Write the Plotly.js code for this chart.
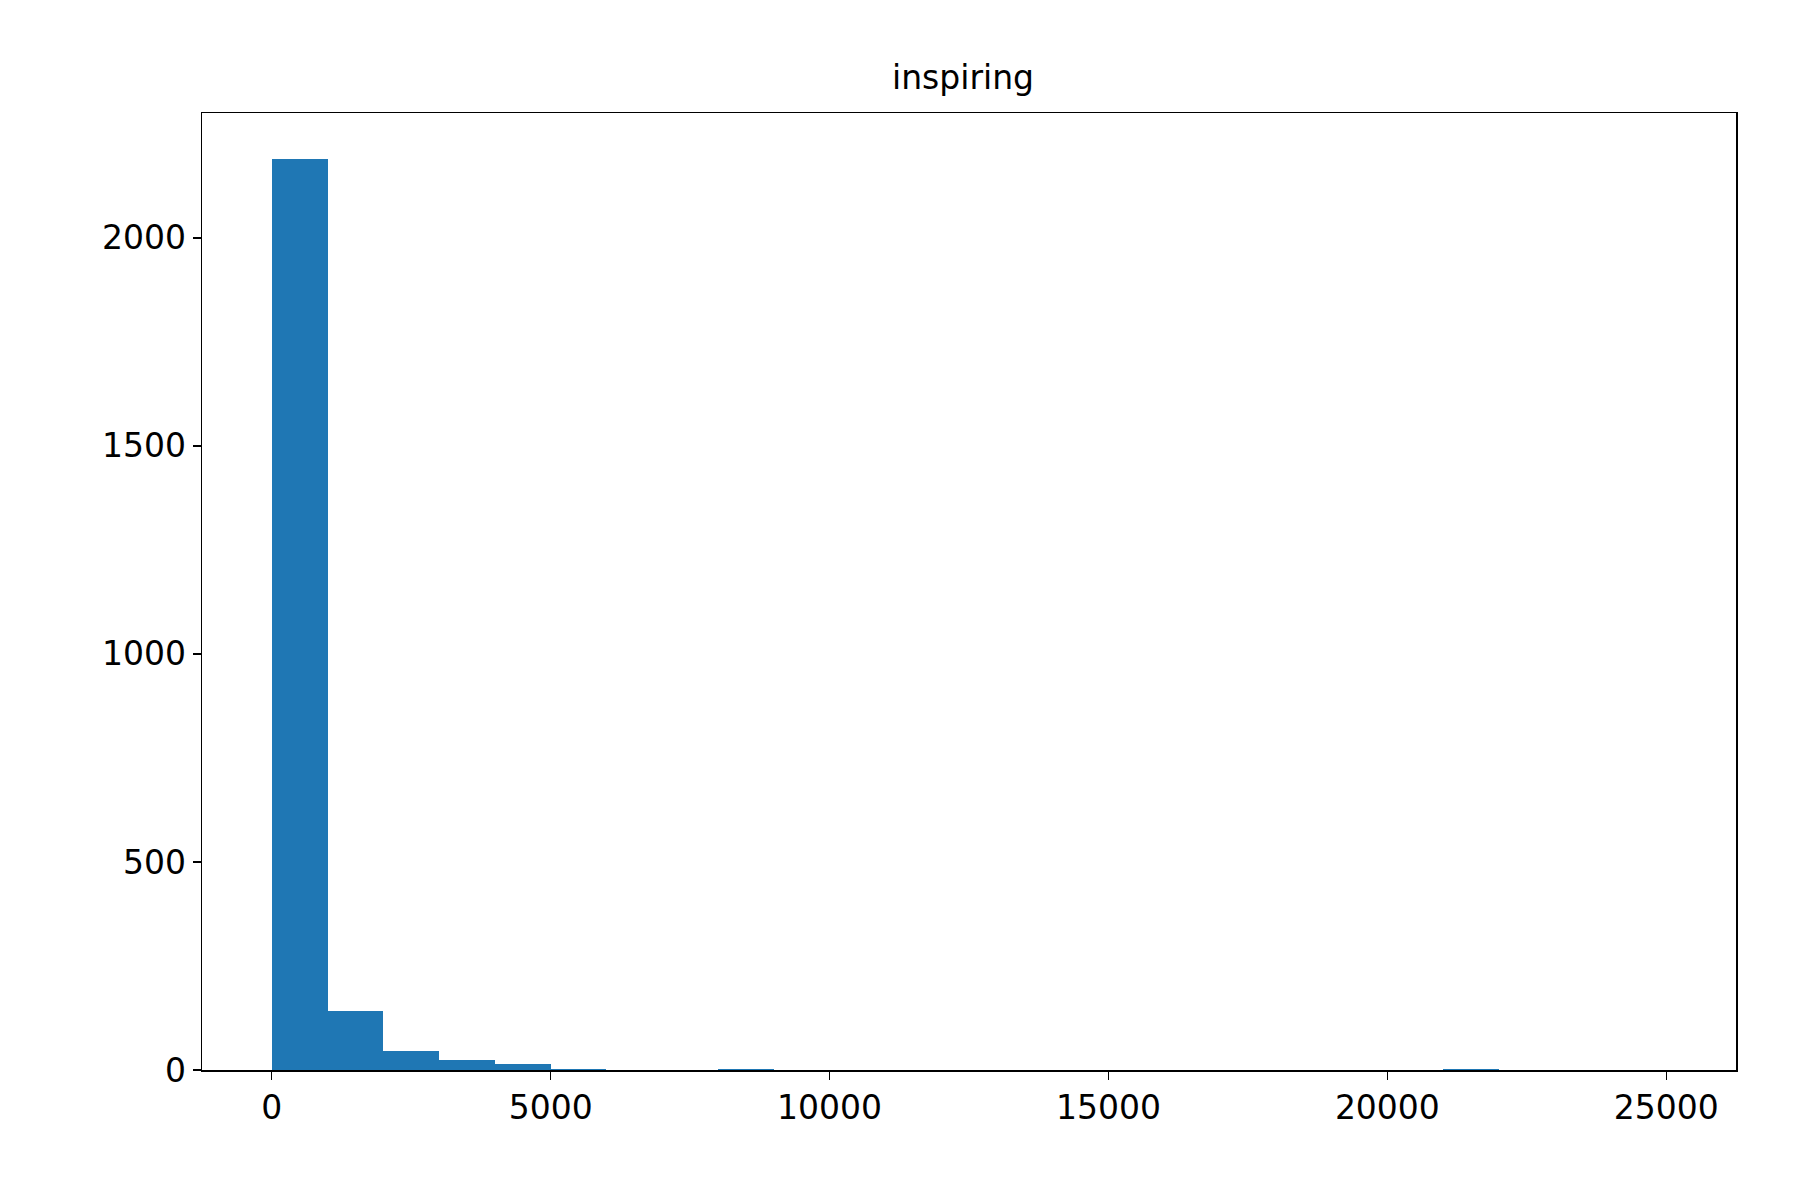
<!DOCTYPE html>
<html>
<head>
<meta charset="utf-8">
<script src="https://cdn.plot.ly/plotly-3.0.1.min.js"></script>
<style>body{margin:0;background:#fff}#chart{width:1800px;height:1200px}</style>
</head>
<body>
<div id="chart"></div>
<script>
// histogram bins of width 1000, 0..25000
const binStarts = [0,1000,2000,3000,4000,5000,6000,7000,8000,9000,10000,11000,12000,
  13000,14000,15000,16000,17000,18000,19000,20000,21000,22000,23000,24000];
const counts = [2190,143,45,25,14,3,0,0,2,0,0,0,0,0,0,0,0,0,0,0,0,2,0,0,0];
const binWidth = 1000;

const trace = {
  type: 'bar',
  x: binStarts.map(s => s + binWidth / 2),
  y: counts,
  width: binWidth,
  marker: { color: '#1f77b4', line: { width: 0 } },
  hoverinfo: 'x+y'
};

const axisCommon = {
  showline: true, linecolor: '#000', linewidth: 1.5, mirror: true,
  ticks: 'outside', ticklen: 8, tickwidth: 1.5, tickcolor: '#000',
  showgrid: false, zeroline: false, tickformat: 'd',
  tickfont: { family: 'DejaVu Sans', size: 33, color: '#000' }
};

const layout = {
  width: 1800, height: 1200,
  title: { text: 'inspiring', font: { family: 'DejaVu Sans', size: 33, color: '#000' }, x: 0.535, y: 0.945, xanchor: 'center' },
  xaxis: Object.assign({}, axisCommon, { range: [-1250, 26250], tickvals: [0,5000,10000,15000,20000,25000] }),
  yaxis: Object.assign({}, axisCommon, { range: [0, 2300], tickvals: [0,500,1000,1500,2000] }),
  margin: { l: 202, r: 64, t: 113, b: 130 },
  bargap: 0,
  plot_bgcolor: '#fff', paper_bgcolor: '#fff',
  showlegend: false
};

Plotly.newPlot('chart', [trace], layout, { displayModeBar: false, staticPlot: true });
</script>
</body>
</html>
